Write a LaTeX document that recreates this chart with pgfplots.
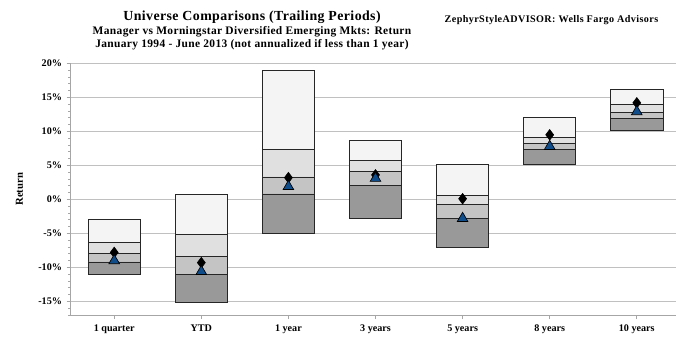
\documentclass[border=0pt]{standalone}
\usepackage{fontspec}
\setmainfont{Liberation Serif}
\usepackage{pgfplots}
\usepackage{pgfplotstable}
\pgfplotsset{compat=1.18}
\definecolor{q1}{HTML}{F4F4F4}
\definecolor{q2}{HTML}{E0E0E0}
\definecolor{q3}{HTML}{C4C4C4}
\definecolor{q4}{HTML}{999999}
\definecolor{mgrblue}{HTML}{0F4C8A}
\definecolor{gridgrey}{HTML}{C0C0C0}

% percentiles: 95th (bottom), 75th, median, 25th, 5th (top); manager, benchmark
\pgfplotstableread{
x   lo     p75    med    p25    hi     mgr    bm
0  -11.1   -9.2   -7.9   -6.3   -2.9   -7.8   -9.0
1  -15.1  -11.0   -8.4   -5.2    0.7   -9.3  -10.6
2   -5.0    0.8    3.3    7.35  18.9    3.2    1.9
3   -2.85   2.06   4.1    5.7    8.7    3.6    3.1
4   -7.0   -2.8   -0.7    0.6    5.1    0.1   -2.8
5    5.1    7.3    8.2    9.1   12.0    9.5    7.8
6   10.1   11.9   12.8   13.9   16.2   14.2   12.9
}\univ

\begin{document}
\begin{tikzpicture}
\useasboundingbox (0,0) rectangle (507pt,255pt);
\node[font=\bfseries\fontsize{10.4}{12}\selectfont\addfontfeatures{LetterSpace=3}] at (189pt,242pt) {Universe Comparisons (Trailing Periods)};
\node[font=\bfseries\fontsize{8.6}{9.8}\selectfont\addfontfeatures{LetterSpace=3}, align=center] at (189pt,226pt)
  {Manager vs Morningstar Diversified Emerging Mkts: Return\\January 1994 - June 2013 (not annualized if less than 1 year)};
\node[font=\bfseries\fontsize{7.6}{8}\selectfont\addfontfeatures{LetterSpace=4}, anchor=west] at (330pt,240pt) {ZephyrStyleADVISOR: Wells Fargo Advisors};
\begin{axis}[
  at={(53pt,18.75pt)}, anchor=south west,
  scale only axis,
  width=454pt, height=188.7pt,
  xmin=-0.5, xmax=6.45,
  ymin=-17, ymax=20,
  axis x line*=bottom, axis y line*=left,
  axis line style={gray!70, line width=0.6pt},
  xtick={0,...,6},
  xticklabels={1 quarter, YTD, 1 year, 3 years, 5 years, 8 years, 10 years},
  ytick={-15,-10,...,20},
  yticklabel={\pgfmathprintnumber{\tick}\%},
  minor ytick={-17,...,20},
  tick style={gray!70, line width=0.5pt},
  major tick length=3pt, minor tick length=2pt,
  tick align=outside,
  ymajorgrids, grid style={gridgrey, line width=0.6pt},
  ticklabel style={font=\bfseries\fontsize{7.6}{9}\selectfont},
  /pgf/number format/assume math mode=true,
  ylabel={Return},
  ylabel style={font=\bfseries\fontsize{8}{9}\selectfont, at={(axis description cs:-0.071,0.5)}},
  xticklabel style={yshift=-1pt},
  ybar stacked, stack negative=on previous, bar width=0.6,
  clip=false,
]
\addplot[draw=none, fill=none] table[x=x, y=lo] {\univ};
\addplot[fill=q4, draw=black!85, line width=0.6pt] table[x=x, y expr=\thisrow{p75}-\thisrow{lo}] {\univ};
\addplot[fill=q3, draw=black!85, line width=0.6pt] table[x=x, y expr=\thisrow{med}-\thisrow{p75}] {\univ};
\addplot[fill=q2, draw=black!85, line width=0.6pt] table[x=x, y expr=\thisrow{p25}-\thisrow{med}] {\univ};
\addplot[fill=q1, draw=black!85, line width=0.6pt] table[x=x, y expr=\thisrow{hi}-\thisrow{p25}] {\univ};
\end{axis}
\begin{axis}[
  at={(53pt,18.75pt)}, anchor=south west,
  scale only axis,
  width=454pt, height=188.7pt,
  xmin=-0.5, xmax=6.45,
  ymin=-17, ymax=20,
  axis lines=none, ticks=none,
  clip=false,
]
\addplot[only marks, mark=diamond*, mark size=4pt, mark options={fill=black, draw=black}] table[x=x, y=mgr] {\univ};
\addplot[only marks, mark=triangle*, mark size=4.6pt, mark options={fill=mgrblue, draw=black, line width=0.5pt}] table[x=x, y=bm] {\univ};
\end{axis}
\end{tikzpicture}
\end{document}
